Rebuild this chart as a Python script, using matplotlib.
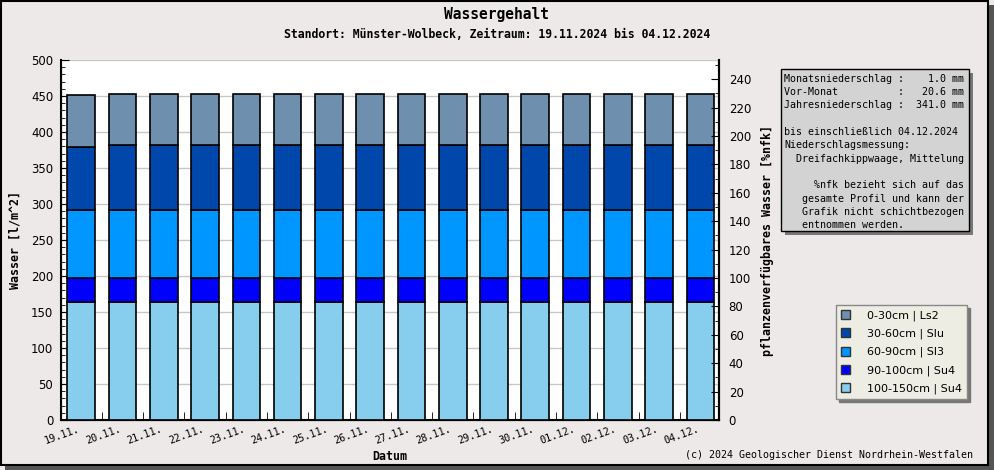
#!/usr/bin/env python3
"""Wassergehalt stacked bars, Münster-Wolbeck, 19.11.2024 - 04.12.2024."""

import matplotlib.pyplot as plt
from matplotlib.patches import Rectangle, Patch
from matplotlib.ticker import MultipleLocator
import numpy as np

# ── data ──────────────────────────────────────────────────────────────────────
dates = ['19.11.', '20.11.', '21.11.', '22.11.', '23.11.', '24.11.', '25.11.',
         '26.11.', '27.11.', '28.11.', '29.11.', '30.11.', '01.12.', '02.12.',
         '03.12.', '04.12.']

layers = ['100-150cm | Su4', '90-100cm | Su4', '60-90cm | Sl3',
          '30-60cm | Slu', '0-30cm | Ls2']
colors = ['#87CEEE', '#0000FF', '#0096FF', '#0047AB', '#6F8FAF']

w_100_150 = [164] * 16
w_90_100  = [33] * 16
w_60_90   = [94.5] * 16
w_30_60   = [87.5] + [90] * 15
w_0_30    = [72] + [71] * 15

info_text = ('Monatsniederschlag :    1.0 mm\n'
             'Vor-Monat          :   20.6 mm\n'
             'Jahresniederschlag :  341.0 mm\n'
             '\n'
             'bis einschließlich 04.12.2024\n'
             'Niederschlagsmessung:\n'
             '  Dreifachkippwaage, Mittelung\n'
             '\n'
             '     %nfk bezieht sich auf das\n'
             '   gesamte Profil und kann der\n'
             '   Grafik nicht schichtbezogen\n'
             '   entnommen werden.')

BG = '#ECE9E8'
MONO = 'DejaVu Sans Mono'

# ── figure ────────────────────────────────────────────────────────────────────
fig = plt.figure(figsize=(9.95, 4.70), dpi=100, facecolor=BG)

# outer frame with shadow
fig.patches.append(Rectangle((5 / 995, 0), 990 / 995, 465 / 470, transform=fig.transFigure,
                             facecolor='#555555', edgecolor='none', zorder=-2))
fig.patches.append(Rectangle((0.5 / 995, 5 / 470), 988 / 995, 464 / 470,
                             transform=fig.transFigure, facecolor=BG,
                             edgecolor='black', linewidth=1.5, zorder=-1))

ax = fig.add_axes([61 / 995, 50 / 470, 658 / 995, 360 / 470])
ax.set_facecolor('white')

x = np.arange(len(dates))
bottom = np.zeros(len(dates))
for vals, col, lab in zip([w_100_150, w_90_100, w_60_90, w_30_60, w_0_30], colors, layers):
    ax.bar(x, vals, bottom=bottom, width=0.67, color=col, edgecolor='black',
           linewidth=1.2, label=lab, zorder=3)
    bottom += np.array(vals)

ax.set_xlim(-0.49, len(dates) - 0.55)
ax.set_ylim(0, 500)
ax.yaxis.set_major_locator(MultipleLocator(50))
ax.yaxis.set_minor_locator(MultipleLocator(10))
ax.grid(axis='y', color='#C8C8C8', linewidth=1, zorder=0)
ax.tick_params(axis='y', which='major', length=6, direction='in', labelsize=8.5, pad=5.5)
ax.tick_params(axis='y', which='minor', length=3, direction='in')

ax.set_xticks(x - 0.08)
ax.set_xticklabels(dates, rotation=20, ha='right', family=MONO, fontsize=7.3,
                   rotation_mode='anchor')
ax.tick_params(axis='x', which='major', length=0, pad=3)
ax.set_xticks(x[:-1] + 0.5, minor=True)
ax.tick_params(axis='x', which='minor', length=6, direction='in')
ax.spines['top'].set_visible(False)
for s in ['left', 'bottom', 'right']:
    ax.spines[s].set_linewidth(1.5)

ax2 = ax.twinx()
ax2.set_ylim(0, 253.5)
ax2.yaxis.set_minor_locator(MultipleLocator(10))
ax2.set_yticks(np.arange(0, 241, 20))
ax2.tick_params(axis='y', which='major', length=6, direction='in', labelsize=8.5, pad=7)
ax2.tick_params(axis='y', which='minor', length=3, direction='in')
ax2.spines['top'].set_visible(False)
ax2.spines['right'].set_linewidth(1.5)

# labels
fig.text(497 / 995, 1 - 14 / 470, 'Wassergehalt', ha='center', va='center',
         family=MONO, fontweight='bold', fontsize=10.5)
fig.text(497 / 995, 1 - 34 / 470,
         'Standort: Münster-Wolbeck, Zeitraum: 19.11.2024 bis 04.12.2024',
         ha='center', va='center', family=MONO, fontweight='bold', fontsize=8.3)
fig.text(15 / 995, 1 - 240 / 470, 'Wasser [l/m^2]', rotation=90, ha='center',
         va='center', family=MONO, fontweight='bold', fontsize=8.4)
fig.text(767 / 995, 1 - 240 / 470, 'pflanzenverfügbares Wasser [%nfk]', rotation=90,
         ha='center', va='center', family=MONO, fontweight='bold', fontsize=8.4)
fig.text(390 / 995, 1 - 457 / 470, 'Datum', ha='center', va='center',
         family=MONO, fontweight='bold', fontsize=8.4)
fig.text(973 / 995, 1 - 455 / 470, '(c) 2024 Geologischer Dienst Nordrhein-Westfalen',
         ha='right', va='center', family=MONO, fontsize=7.2)

# info box
fig.patches.append(Rectangle((785 / 995, 1 - 235 / 470), 188 / 995, 162 / 470,
                             transform=fig.transFigure, facecolor='#777777',
                             edgecolor='none', zorder=1))
fig.patches.append(Rectangle((781 / 995, 1 - 231 / 470), 188 / 995, 162 / 470,
                             transform=fig.transFigure, facecolor='#D3D3D3',
                             edgecolor='black', linewidth=1, zorder=2))
fig.text(784 / 995, 1 - 73.5 / 470, info_text, ha='left', va='top', family=MONO,
         fontsize=7.2, linespacing=1.42, zorder=3)

# legend
handles = [Patch(facecolor=c, edgecolor='#333333', label=l)
           for c, l in zip(colors, layers)][::-1]
leg = fig.legend(handles=handles, loc='upper left',
                 bbox_to_anchor=(836 / 995, 1 - 305 / 470), fontsize=8,
                 frameon=True, fancybox=False, shadow={'color': '#777777', 'alpha': 1},
                 handlelength=0.85, handleheight=0.85, handletextpad=1.5,
                 labelspacing=0.68, borderpad=0.45, borderaxespad=0)
leg.get_frame().set_facecolor('#EEEDE3')
leg.get_frame().set_edgecolor('#888888')
leg.get_frame().set_alpha(1)

fig.savefig('out.png', dpi=100, facecolor=BG)
